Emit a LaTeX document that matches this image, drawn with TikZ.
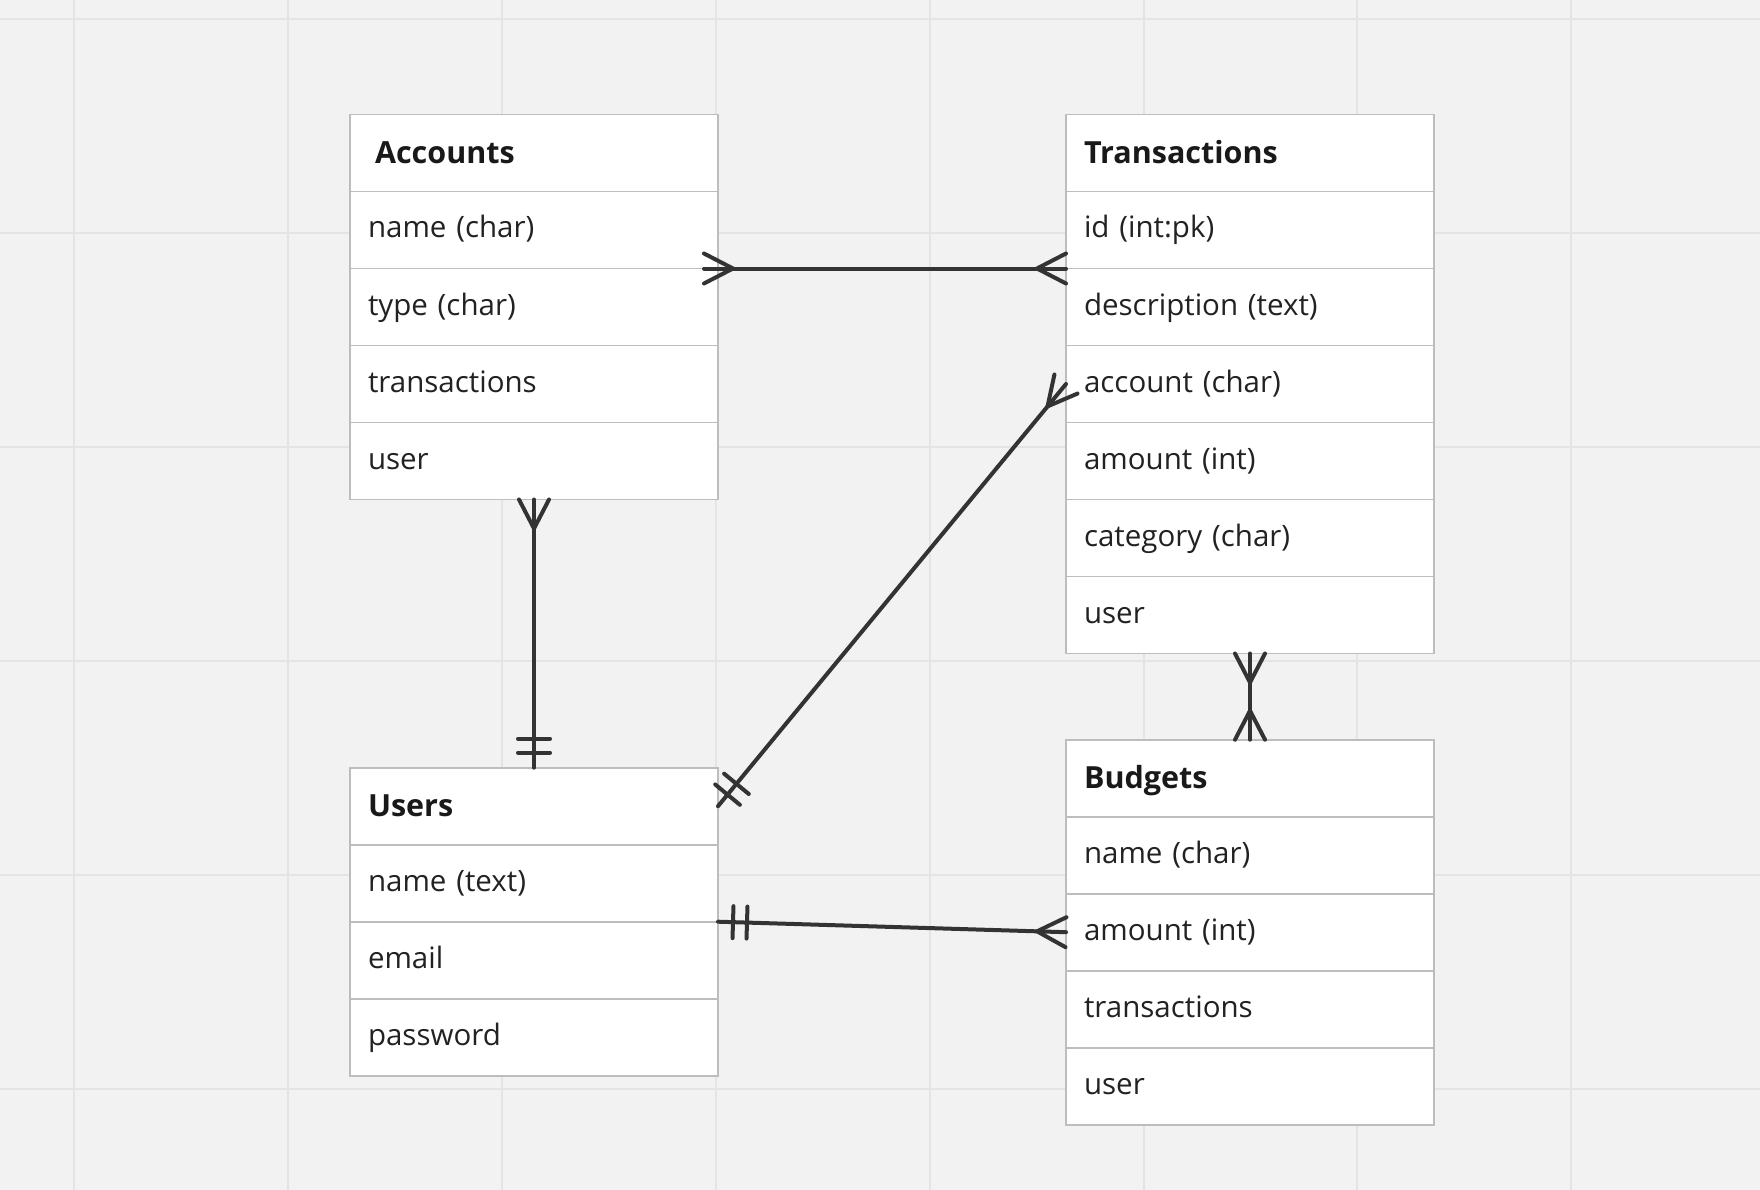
\documentclass[tikz,border=0pt]{standalone}
\usepackage{fontspec}
\setmainfont{Open Sans}
\usetikzlibrary{positioning,calc}
\definecolor{bgc}{HTML}{F2F2F2}
\definecolor{gridc}{HTML}{E4E4E4}
\definecolor{boxc}{HTML}{BDBDBD}
\definecolor{linec}{HTML}{333333}
\definecolor{textc}{HTML}{222222}
\tikzset{
  field/.style={draw=boxc, line width=1.8pt, fill=white, minimum width=368pt,
    minimum height=77pt, text width=332pt, inner xsep=18pt, inner ysep=0pt,
    outer sep=0pt, align=left, text height=22pt, text depth=6pt,
    font=\fontsize{29.5}{34}\selectfont, text=textc},
  head/.style={field, text height=24.5pt, text depth=3.5pt,
    font=\fontsize{30.5}{35}\selectfont\bfseries, text=black!90},
  conn/.style={draw=linec, line width=4pt, line cap=round},
  gridline/.style={draw=gridc, line width=2pt},
}
% crow's foot at #1, line going towards #2
\newcommand{\crowfoot}[2]{%
  \draw[conn] ($(#1)!15pt!90:(#2)$) -- ($(#1)!29pt!(#2)$) -- ($(#1)!15pt!-90:(#2)$);}
% two bars (one and only one) at #1
\newcommand{\twobars}[2]{%
  \foreach \bd in {15pt,29pt}{
    \coordinate (barc) at ($(#1)!\bd!(#2)$);
    \draw[conn] ($(barc)!16pt!90:(#2)$) -- ($(barc)!16pt!-90:(#2)$);}}
\begin{document}
\begin{tikzpicture}[x=1pt,y=-1pt]
  \useasboundingbox[fill=bgc] (0,0) rectangle (1760,1190);
  \foreach \g in {0,...,7}
    \draw[gridline] ({74+213.9*\g},0) -- ({74+213.9*\g},1190);
  \foreach \g in {0,...,5}
    \draw[gridline] (0,{19+213.9*\g}) -- (1760,{19+213.9*\g});

  % Accounts
  \node[head, anchor=north west] (acc) at (350,114.5) {\hspace*{7pt}Accounts};
  \node[field, below=0pt of acc] (acc1) {name (char)};
  \node[field, below=0pt of acc1] (acc2) {type (char)};
  \node[field, below=0pt of acc2] (acc3) {transactions};
  \node[field, below=0pt of acc3] (acc4) {user};

  % Transactions
  \node[head, anchor=north west] (tr) at (1066,114.5) {Transactions};
  \node[field, below=0pt of tr] (tr1) {id (int:pk)};
  \node[field, below=0pt of tr1] (tr2) {description (text)};
  \node[field, below=0pt of tr2] (tr3) {account (char)};
  \node[field, below=0pt of tr3] (tr4) {amount (int)};
  \node[field, below=0pt of tr4] (tr5) {category (char)};
  \node[field, below=0pt of tr5] (tr6) {user};

  % Users
  \node[head, anchor=north west] (usr) at (350,767.7) {Users};
  \node[field, below=0pt of usr] (usr1) {name (text)};
  \node[field, below=0pt of usr1] (usr2) {email};
  \node[field, below=0pt of usr2] (usr3) {password};

  % Budgets
  \node[head, anchor=north west] (bud) at (1066,739.7) {Budgets};
  \node[field, below=0pt of bud] (bud1) {name (char)};
  \node[field, below=0pt of bud1] (bud2) {amount (int)};
  \node[field, below=0pt of bud2] (bud3) {transactions};
  \node[field, below=0pt of bud3] (bud4) {user};

  % relations
  \coordinate (accR) at ([xshift=-14pt]acc1.south east);
  \draw[conn] (accR) -- (tr1.south west);
  \crowfoot{accR}{tr1.south west}
  \crowfoot{tr1.south west}{accR}

  \draw[conn] (acc4.south) -- (usr.north);
  \crowfoot{acc4.south}{usr.north}
  \twobars{usr.north}{acc4.south}

  \draw[conn] (usr.east) -- (tr3.west);
  \twobars{usr.east}{tr3.west}
  \crowfoot{tr3.west}{usr.east}

  \draw[conn] (tr6.south) -- (bud.north);
  \crowfoot{tr6.south}{bud.north}
  \crowfoot{bud.north}{tr6.south}

  \draw[conn] (usr1.south east) -- (bud2.west);
  \twobars{usr1.south east}{bud2.west}
  \crowfoot{bud2.west}{usr1.south east}
\end{tikzpicture}
\end{document}
